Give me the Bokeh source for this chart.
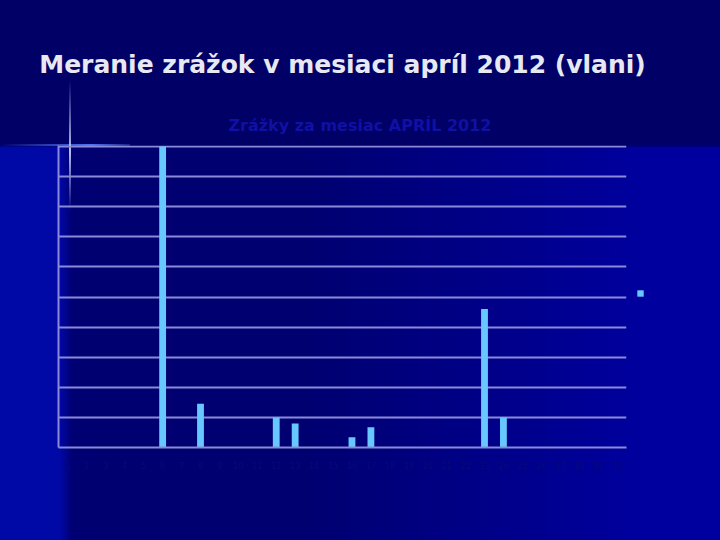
from bokeh.plotting import figure
from bokeh.models import (ColumnDataSource, FactorRange, Range1d, FixedTicker,
                          Title, Legend, LegendItem)
from bokeh.embed import file_html
from bokeh.resources import INLINE

# ---- data ----
days = [str(d) for d in range(1, 31)]
rain_days = ["6", "8", "12", "13", "16", "17", "23", "24"]
rain_mm = [10.0, 1.45, 1.0, 0.8, 0.34, 0.67, 4.6, 1.0]
y_ticks = list(range(0, 11))

main_title = "Meranie zrážok v mesiaci apríl 2012 (vlani)"
chart_title = "Zrážky za mesiac APRÍL 2012"

p = figure(frame_width=568, frame_height=302,
           x_range=FactorRange(factors=days, range_padding=0),
           y_range=Range1d(0, 10.035), output_backend="svg", toolbar_location=None,
           min_border_left=58, min_border_right=92, min_border_top=145,
           min_border_bottom=91, title=None)
p.border_fill_alpha = 0
p.background_fill_alpha = 0
p.outline_line_color = None

# ---- bars ----
src = ColumnDataSource(dict(day=rain_days, mm=rain_mm))
r = p.vbar(x="day", top="mm", width=0.36, source=src, fill_color="#66c8ff",
           line_color=None)

# ---- axes & grid ----
p.ygrid.ticker = FixedTicker(ticks=y_ticks)
p.ygrid.grid_line_color = "#8a8ad8"
p.ygrid.grid_line_width = 2
p.xgrid.grid_line_color = None

p.yaxis.ticker = FixedTicker(ticks=y_ticks)
p.yaxis.major_label_text_color = None
p.yaxis.major_tick_line_color = None
p.yaxis.minor_tick_line_color = None
p.yaxis.axis_line_color = "#8a8ad8"
p.yaxis.axis_line_width = 2

p.xaxis.axis_line_color = "#8a8ad8"
p.xaxis.axis_line_width = 2
p.xaxis.major_tick_line_color = None
p.xaxis.major_label_text_color = "#08087a"
p.xaxis.major_label_text_font_size = "8px"
p.xaxis.major_label_text_font = "DejaVu Sans"
p.xaxis.major_label_standoff = 8

# ---- titles ----
p.add_layout(Title(text=chart_title, align="left", offset=170,
                   text_font="DejaVu Sans", text_font_style="bold",
                   text_font_size="16px", text_color="#1010a4", standoff=21), "above")
p.add_layout(Title(text=main_title, align="center",
                   text_font="DejaVu Sans", text_font_style="bold",
                   text_font_size="25px", text_color="#e8e8f2", standoff=50), "above")

# ---- legend (single marker, no visible label) ----
legend = Legend(items=[LegendItem(label=" ", renderers=[r])], location=(10, 150),
                glyph_width=8, glyph_height=8, padding=0, margin=0,
                label_width=0, label_height=8, label_text_font_size="1px",
                label_standoff=0, background_fill_alpha=0, border_line_color=None)
p.add_layout(legend, "right")

bg = (
    "html{background-color:#000066;"
    "background-repeat:no-repeat;"
    "background-image:"
    "linear-gradient(to bottom, rgba(200,215,255,0) 0%, rgba(200,215,255,0.9) 55%, rgba(200,215,255,0) 100%),"
    "linear-gradient(to right, rgba(60,100,255,0) 0%, rgba(90,130,255,0.9) 70%, rgba(160,180,255,0.2) 100%),"
    "linear-gradient(to bottom, #000066 0px, #000066 146px, rgba(0,0,102,0) 147px),"
    "linear-gradient(to right, #0008a6 0px, #0008a6 60px, #000072 72px, #000070 300px, #00008a 500px, #00009e 640px, #0000a0 720px);"
    "background-size:2px 130px, 130px 2px, 720px 540px, 720px 540px;"
    "background-position:69px 80px, 0px 144px, 0px 0px, 0px 0px;}"
    "body{background:transparent;}"
)
html = file_html(p, INLINE)
html = html.replace("</head>", "<style>" + bg + "</style></head>", 1)
open("out.html", "w").write(html)
